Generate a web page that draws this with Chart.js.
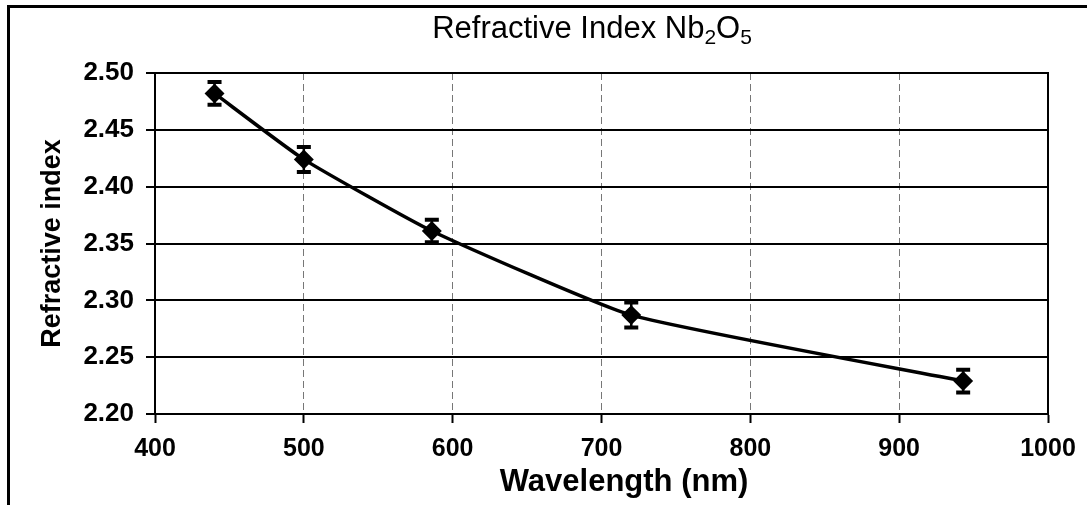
<!DOCTYPE html>
<html>
<head>
<meta charset="utf-8">
<script src="https://cdn.jsdelivr.net/npm/chart.js@4.4.1/dist/chart.umd.min.js"></script>
<style>
  html, body { margin: 0; padding: 0; background: #fff; }
  #wrap { width: 1087px; height: 505px; }
</style>
</head>
<body>
<div id="wrap"><canvas id="chart"></canvas></div>
<script>
// Refractive index of Nb2O5 vs wavelength
const wavelengths = [440, 500, 586, 720, 943];
const refIndex = [2.482, 2.424, 2.361, 2.287, 2.229];
const errors = [0.010, 0.011, 0.010, 0.011, 0.010];
const xTicks = [400, 500, 600, 700, 800, 900, 1000];
const yTicks = [2.20, 2.25, 2.30, 2.35, 2.40, 2.45, 2.50];

const FONT = '"Liberation Sans", Arial, sans-serif';

// outer frame + plot box
const framePlugin = {
  id: 'frame',
  beforeDraw(chart) {
    const c = chart.ctx;
    c.save();
    c.fillStyle = '#fff';
    c.fillRect(0, 0, chart.width, chart.height);
    c.strokeStyle = '#000';
    c.lineWidth = 3;
    c.beginPath();
    c.moveTo(8.5, chart.height);
    c.lineTo(8.5, 6.5);
    c.lineTo(chart.width, 6.5);
    c.stroke();
    c.restore();
  },
  beforeDatasetsDraw(chart) {
    const a = chart.chartArea;
    const c = chart.ctx;
    c.save();
    c.strokeStyle = '#000';
    c.lineWidth = 2;
    c.strokeRect(a.left, a.top, a.right - a.left, a.bottom - a.top);
    c.restore();
  }
};

// vertical error bars from the errors array
const errorBars = {
  id: 'errorBars',
  afterDatasetsDraw(chart) {
    const xs = chart.scales.x, ys = chart.scales.y;
    const c = chart.ctx;
    c.save();
    c.strokeStyle = '#000';
    wavelengths.forEach((w, i) => {
      const px = xs.getPixelForValue(w);
      const top = ys.getPixelForValue(refIndex[i] + errors[i]);
      const bot = ys.getPixelForValue(refIndex[i] - errors[i]);
      c.lineWidth = 2.5;
      c.beginPath();
      c.moveTo(px, top);
      c.lineTo(px, bot);
      c.stroke();
      c.lineWidth = 4;
      c.beginPath();
      c.moveTo(px - 7, top);
      c.lineTo(px + 7, top);
      c.moveTo(px - 7, bot);
      c.lineTo(px + 7, bot);
      c.stroke();
    });
    c.restore();
  }
};

// titles (main title has subscripts)
const titles = {
  id: 'titles',
  afterDraw(chart) {
    const c = chart.ctx;
    const a = chart.chartArea;
    c.save();
    c.fillStyle = '#000';
    c.textBaseline = 'alphabetic';

    const parts = [['Refractive Index Nb', false], ['2', true], ['O', false], ['5', true]];
    const big = 'normal 31px ' + FONT, small = 'normal 21px ' + FONT;
    let total = 0;
    parts.forEach(([t, sub]) => { c.font = sub ? small : big; total += c.measureText(t).width; });
    let x = 592 - total / 2;
    parts.forEach(([t, sub]) => {
      c.font = sub ? small : big;
      c.fillText(t, x, sub ? 44 : 38);
      x += c.measureText(t).width;
    });

    c.font = 'bold 31px ' + FONT;
    c.textAlign = 'center';
    c.fillText('Wavelength (nm)', 624, 491);

    c.save();
    c.font = 'bold 27px ' + FONT;
    c.translate(60, (a.top + a.bottom) / 2);
    c.rotate(-Math.PI / 2);
    c.fillText('Refractive index', 0, 0);
    c.restore();
    c.restore();
  }
};

new Chart(document.getElementById('chart'), {
  type: 'line',
  data: {
    datasets: [{
      data: wavelengths.map((w, i) => ({ x: w, y: refIndex[i] })),
      borderColor: '#000',
      borderWidth: 3.5,
      backgroundColor: '#000',
      pointStyle: 'rectRot',
      pointRadius: 7.5,
      pointBackgroundColor: '#000',
      pointBorderColor: '#000',
      tension: 0.15,
      fill: false
    }]
  },
  options: {
    responsive: true,
    maintainAspectRatio: false,
    animation: false,
    layout: { padding: { top: 73, right: 39, left: 0, bottom: 0 } },
    plugins: {
      legend: { display: false },
      title: { display: false },
      tooltip: { enabled: false }
    },
    scales: {
      x: {
        type: 'linear',
        min: 400,
        max: 1000,
        afterBuildTicks: (s) => { s.ticks = xTicks.map(v => ({ value: v })); },
        afterFit: (s) => { s.height = 91; },
        ticks: {
          color: '#000',
          font: { family: FONT, size: 25, weight: 'bold' },
          padding: 11,
          maxRotation: 0,
          callback: (v) => String(v)
        },
        grid: {
          color: '#777',
          lineWidth: 1,
          tickColor: '#000',
          tickLength: 9,
          tickWidth: 2,
          tickBorderDash: []
        },
        border: { display: true, color: '#000', width: 2, dash: [7, 4] }
      },
      y: {
        min: 2.2,
        max: 2.5,
        afterBuildTicks: (s) => { s.ticks = yTicks.map(v => ({ value: v })); },
        afterFit: (s) => { s.width = 155; },
        ticks: {
          color: '#000',
          font: { family: FONT, size: 26, weight: 'bold' },
          padding: 12,
          callback: (v) => v.toFixed(2)
        },
        grid: {
          color: '#000',
          lineWidth: 2,
          tickColor: '#000',
          tickLength: 9,
          tickWidth: 2
        },
        border: { display: true, color: '#000', width: 2 }
      }
    }
  },
  plugins: [framePlugin, errorBars, titles]
});
</script>
</body>
</html>
